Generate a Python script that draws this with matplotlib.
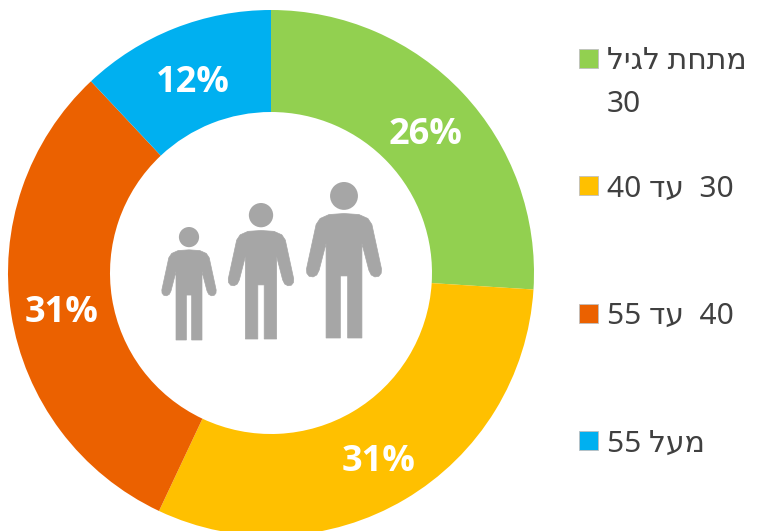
#!/usr/bin/env python3
"""Age groups donut chart"""

import matplotlib
matplotlib.use('Agg')
import matplotlib.pyplot as plt
from matplotlib.patches import Circle, Polygon, Rectangle

# Data
values = [26, 31, 31, 12]
colors = ['#92D050', '#FFC000', '#EB6100', '#00B0F0']
labels = ['מתחת לגיל\n30', '30  עד 40', '40  עד 55', 'מעל 55']

W, H = 769, 531
GRAY = '#A6A6A6'

plt.rcParams['font.family'] = ['Noto Sans', 'DejaVu Sans']


# matplotlib has no bidi, so flip the Hebrew by hand
def visual(text):
    lines = []
    for line in text.split('\n'):
        words = [w[::-1] if not w.isdigit() else w for w in line.split(' ')]
        lines.append(' '.join(words[::-1]))
    return lines


# one person, cx is the middle, top and bottom in y-down pixels
def person(ax, cx, top, bottom):
    s = (bottom - top) / 470
    half = [(0, 95), (45, 98), (72, 110), (84, 128), (113, 262), (112, 275),
            (105, 284), (93, 286), (82, 280), (75, 266), (54, 185), (54, 470),
            (11, 470), (11, 283)]
    pts = half + [(-x, y) for x, y in half[::-1]]
    xy = [(cx + x * s, H - (top + y * s)) for x, y in pts]
    ax.add_patch(Polygon(xy, closed=True, fc=GRAY, ec=GRAY, lw=0.5, zorder=3))
    ax.add_patch(Circle((cx, H - (top + 42 * s)), 42 * s, fc=GRAY, ec='none', zorder=3))


fig = plt.figure(figsize=(W / 100, H / 100), dpi=100)
ax = fig.add_axes([0, 0, 1, 1])

wedges, texts, pcts = ax.pie(
    values, colors=colors, startangle=90, counterclock=False,
    center=(271, H - 273), radius=263, frame=True,
    wedgeprops={'width': 102, 'linewidth': 0},
    autopct='%d%%', pctdistance=0.806,
    textprops={'color': 'white', 'fontsize': 26, 'fontweight': 'bold', 'family': 'Open Sans'},
)
for t in pcts:
    x, y = t.get_position()
    t.set_position((x, y - 7))

person(ax, 344, 182, 338)
person(ax, 261, 203, 339)
person(ax, 189, 227, 340)

# legend, placed by hand so the wrapped label lines up
legend_y = [58, 185.5, 313, 440.5]
for color, label, y in zip(colors, labels, legend_y):
    ax.add_patch(Rectangle((578.5, H - y - 9.5), 19, 19, fc=color, ec='#BFBFBF', lw=0.6))
    for i, line in enumerate(visual(label)):
        ax.text(607, H - (y + i * 43), line, fontsize=21.5, color='#404040', ha='left', va='center_baseline')

ax.set_xlim(0, W)
ax.set_ylim(0, H)
ax.set_aspect('equal')
ax.axis('off')

fig.savefig('out.png', dpi=100)
